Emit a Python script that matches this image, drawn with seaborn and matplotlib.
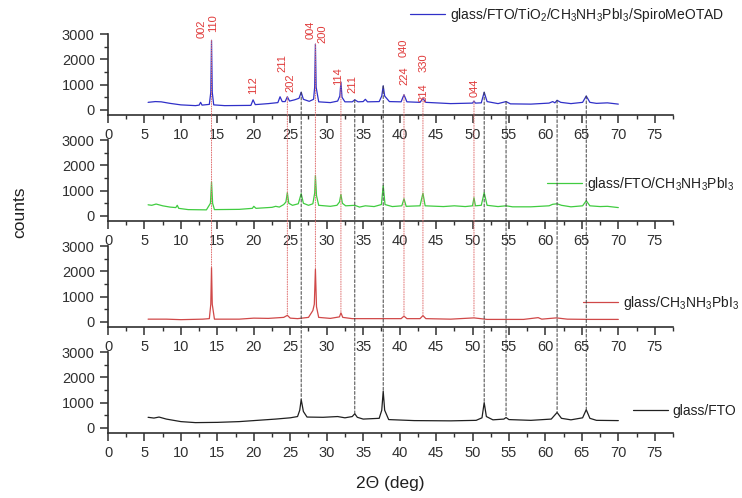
import numpy as np
import matplotlib
matplotlib.use('Agg')
import matplotlib.pyplot as plt
from matplotlib.patches import ConnectionPatch
from matplotlib.ticker import MultipleLocator
import seaborn as sns

# XRD traces (2theta in deg, counts)
spiro_x = [5.5, 6.5, 7.3, 8.5, 10, 12, 12.5, 12.7, 12.9, 13.9, 14.1, 14.2, 14.3, 14.5, 16, 19.6, 19.9, 20.2,
           22, 23.3, 23.6, 23.9, 24.3, 24.6, 24.9, 25.6, 26.2, 26.5, 26.8, 27.6, 28.2, 28.35, 28.45, 28.55,
           28.9, 30.5, 31.5, 31.8, 31.95, 32.1, 32.5, 33.5, 33.85, 34.3, 35.0, 35.3, 35.6, 37.2, 37.55, 37.75,
           37.95, 38.6, 40.2, 40.6, 41.0, 42.8, 43.2, 43.6, 47, 50.0, 50.2, 50.4, 51.2, 51.6, 52.0, 53.5, 54.6,
           55.2, 58, 60.5, 61.0, 61.3, 61.6, 62.1, 63.5, 65.1, 65.6, 66.1, 67, 68.5, 70]
spiro_y = [300, 330, 320, 260, 200, 170, 190, 300, 190, 220, 700, 2750, 700, 200, 170, 180, 400, 210,
           250, 290, 520, 330, 330, 520, 350, 400, 460, 700, 420, 340, 420, 900, 2600, 900,
           320, 290, 350, 550, 1100, 500, 320, 320, 400, 320, 330, 420, 320, 330, 550, 950,
           550, 330, 320, 600, 320, 300, 450, 300, 250, 270, 350, 270, 280, 700, 330, 250, 330,
           240, 230, 270, 330, 280, 380, 300, 250, 300, 550, 300, 260, 280, 230]

mapi_fto_x = [5.5, 6.0, 6.6, 7.5, 8.5, 9.3, 9.5, 9.7, 11, 13.5, 14.05, 14.2, 14.35, 14.6, 18, 19.8, 20.0, 20.3,
              22.5, 23.0, 23.5, 24.1, 24.4, 24.6, 24.8, 25.3, 26.1, 26.5, 26.8, 27.5, 28.1, 28.35, 28.45, 28.6,
              28.9, 30.5, 31.4, 31.75, 31.95, 32.15, 32.6, 33.85, 34.5, 35.3, 36.5, 37.5, 37.75, 38.0, 39,
              40.3, 40.6, 40.9, 42.8, 43.2, 43.5, 46, 47.5, 49, 50.0, 50.2, 50.4, 51.2, 51.6, 52.0, 53.5, 54.6,
              55.5, 58, 60.5, 61.0, 61.6, 62.2, 63.5, 65.1, 65.6, 66.1, 67.5, 68.5, 70]
mapi_fto_y = [440, 420, 470, 400, 350, 330, 420, 300, 250, 240, 500, 1350, 500, 250, 260, 300, 380, 300,
              340, 380, 350, 450, 550, 920, 500, 420, 480, 880, 500, 420, 480, 900, 1600, 800,
              420, 380, 420, 550, 850, 500, 400, 420, 350, 400, 370, 450, 1200, 450, 370,
              400, 680, 380, 400, 900, 400, 370, 400, 370, 400, 720, 400, 420, 920, 420, 370, 400,
              360, 360, 400, 460, 480, 420, 360, 400, 600, 400, 370, 380, 330]

mapi_x = [5.5, 8, 10, 13, 13.9, 14.1, 14.2, 14.3, 14.6, 18, 20, 22, 24.1, 24.6, 25.0, 26, 27.5, 28.1, 28.3,
          28.45, 28.6, 28.9, 30.5, 31.75, 31.95, 32.2, 33.5, 36, 40.2, 40.6, 41.0, 42.8, 43.2, 43.6, 47, 50.2,
          52, 57, 59.0, 59.5, 61.5, 63, 66, 70]
mapi_y = [110, 110, 90, 110, 130, 700, 2150, 700, 110, 110, 150, 140, 180, 260, 150, 130, 180, 450, 700,
          2080, 600, 180, 140, 200, 360, 180, 130, 130, 130, 230, 130, 130, 250, 130, 110, 160,
          100, 100, 170, 110, 160, 110, 100, 100]

fto_x = [5.5, 6.3, 7.0, 8.0, 10, 12, 15, 18, 20, 23, 25, 26.0, 26.3, 26.5, 26.8, 27.3, 29.5, 31.5, 32.5,
         33.5, 33.85, 34.2, 35, 37.2, 37.55, 37.75, 37.95, 38.5, 42, 47, 50.5, 51.3, 51.6, 51.9, 52.8, 54.3,
         54.6, 55.0, 58, 60.8, 61.6, 62.2, 63.5, 65.1, 65.6, 66.1, 67, 70]
fto_y = [420, 390, 430, 350, 250, 210, 220, 250, 290, 350, 400, 450, 700, 1120, 650, 430, 420, 450, 400,
         450, 560, 420, 350, 380, 700, 1450, 700, 330, 290, 280, 300, 400, 1000, 450, 320, 350,
         410, 330, 300, 350, 610, 380, 320, 400, 720, 380, 300, 290]

labels = [r'glass/FTO/TiO$_{\mathregular{2}}$/CH$_{\mathregular{3}}$NH$_{\mathregular{3}}$PbI$_{\mathregular{3}}$/SpiroMeOTAD',
          r'glass/FTO/CH$_{\mathregular{3}}$NH$_{\mathregular{3}}$PbI$_{\mathregular{3}}$',
          r'glass/CH$_{\mathregular{3}}$NH$_{\mathregular{3}}$PbI$_{\mathregular{3}}$',
          'glass/FTO']

# Miller indices written above the top trace
hkl_text = ['002', '110', '112', '211', '202', '004', '200', '114', '211', '224', '040', '314', '330', '044']
hkl_x = [12.8, 14.4, 19.9, 23.9, 25.0, 27.8, 29.4, 31.6, 33.5, 40.6, 40.6, 43.3, 43.3, 50.3]
hkl_y = [2850, 3080, 630, 1500, 700, 2800, 2650, 990, 670, 990, 2090, 320, 1500, 510]

# reference peak positions
perov_peaks = [14.2, 24.6, 28.45, 31.95, 40.6, 43.2, 50.2]
fto_peaks = [26.5, 33.85, 37.75, 51.6, 54.6, 61.6, 65.6]

sns.set_style('ticks')
plt.rcParams['font.family'] = ['Liberation Sans', 'DejaVu Sans']
plt.rcParams['mathtext.fontset'] = 'custom'
plt.rcParams['mathtext.rm'] = 'Liberation Sans'
plt.rcParams['mathtext.it'] = 'Liberation Sans:italic'

W, H = 742, 498
fig = plt.figure(figsize=(W / 100, H / 100), dpi=100)

traces = [(spiro_x, spiro_y), (mapi_fto_x, mapi_fto_y), (mapi_x, mapi_y), (fto_x, fto_y)]
colors = ['#3030c8', '#40cc40', '#d04848', '#202020']
bottoms = [115, 221, 327, 433]
leg_pos = [(410, 15), (547, 184), (583, 303), (633, 411)]

axes = []
for (xs, ys), c, lab, b, (lx, ly) in zip(traces, colors, labels, bottoms, leg_pos):
    ax = fig.add_axes([108 / W, 1 - b / H, 565 / W, 81 / H])
    ax.patch.set_alpha(0)
    sns.lineplot(x=xs, y=ys, ax=ax, color=c, lw=0.9, label=lab, estimator=None)
    ax.set_xlim(0, 77.5)
    ax.set_ylim(-200, 3000)
    ax.xaxis.set_major_locator(MultipleLocator(5))
    ax.xaxis.set_minor_locator(MultipleLocator(2.5))
    ax.yaxis.set_major_locator(MultipleLocator(1000))
    ax.yaxis.set_minor_locator(MultipleLocator(500))
    ax.set_xlabel('')
    ax.set_ylabel('')
    sns.despine(ax=ax)
    for s in ['left', 'bottom']:
        ax.spines[s].set_linewidth(1.2)
        ax.spines[s].set_color('#303030')
    ax.tick_params(which='major', length=5.5, width=1.1, color='#303030', labelsize=10.5,
                   labelcolor='#303030', pad=4)
    ax.tick_params(which='minor', length=3, width=1.0, color='#303030')
    ax.legend(loc='center left', bbox_to_anchor=(lx / W, 1 - ly / H), bbox_transform=fig.transFigure,
              frameon=False, fontsize=10, handlelength=2.5, handletextpad=0.35,
              borderpad=0, borderaxespad=0, labelcolor='#202020')
    axes.append(ax)

for s, x, y in zip(hkl_text, hkl_x, hkl_y):
    axes[0].text(x, y, s, rotation=90, ha='center', va='bottom', color='#e03a3a',
                 fontsize=8, clip_on=False)

# guide lines running from the top trace down to the reference trace
for x in perov_peaks:
    y0 = np.interp(x, spiro_x, spiro_y)
    y1 = np.interp(x, mapi_x, mapi_y)
    fig.add_artist(ConnectionPatch(xyA=(x, y0), coordsA=axes[0].transData,
                                   xyB=(x, y1), coordsB=axes[2].transData,
                                   color='#e07070', lw=0.7, linestyle=(0, (1, 1.5))))
for x in fto_peaks:
    y0 = np.interp(x, spiro_x, spiro_y)
    y1 = np.interp(x, fto_x, fto_y)
    fig.add_artist(ConnectionPatch(xyA=(x, y0), coordsA=axes[0].transData,
                                   xyB=(x, y1), coordsB=axes[3].transData,
                                   color='#404040', lw=0.7, linestyle=(0, (3, 2))))

fig.text(20 / W, 1 - 212 / H, 'counts', rotation=90, ha='center', va='center',
         fontsize=12.5, color='#202020')
fig.text(390 / W, 1 - 483 / H, '2Θ (deg)', ha='center', va='center', fontsize=12.5, color='#202020')

fig.savefig('out.png', dpi=100)
